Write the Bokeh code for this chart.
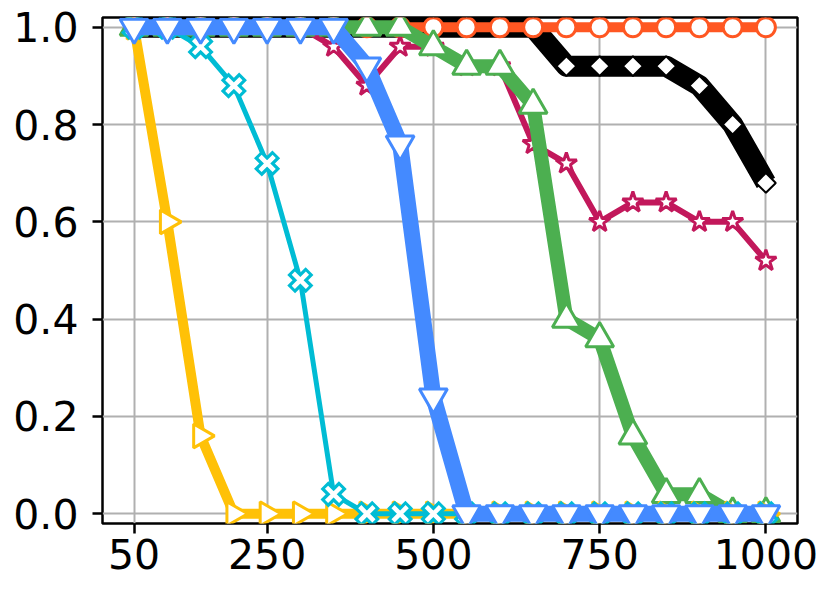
import math
from bokeh.plotting import figure
from bokeh.models import Range1d, FixedTicker, PrintfTickFormatter
from bokeh.embed import file_html
from bokeh.resources import INLINE

x = [50, 100, 150, 200, 250, 300, 350, 400, 450, 500,
     550, 600, 650, 700, 750, 800, 850, 900, 950, 1000]

s_orange = [1.0, 1.0, 1.0, 1.0, 1.0, 1.0, 1.0, 1.0, 1.0, 1.0,
            1.0, 1.0, 1.0, 1.0, 1.0, 1.0, 1.0, 1.0, 1.0, 1.0]
s_black = [1.0, 1.0, 1.0, 1.0, 1.0, 1.0, 1.0, 1.0, 1.0, 1.0,
           1.0, 1.0, 1.0, 0.92, 0.92, 0.92, 0.92, 0.88, 0.80, 0.68]
s_crimson = [1.0, 1.0, 1.0, 1.0, 1.0, 1.0, 0.96, 0.88, 0.96, 0.96,
             0.92, 0.92, 0.76, 0.72, 0.60, 0.64, 0.64, 0.60, 0.60, 0.52]
s_green = [1.0, 1.0, 1.0, 1.0, 1.0, 1.0, 1.0, 1.0, 1.0, 0.96,
           0.92, 0.92, 0.84, 0.40, 0.36, 0.16, 0.04, 0.04, 0.0, 0.0]
s_yellow = [1.0, 0.60, 0.16, 0.0, 0.0, 0.0, 0.0, 0.0, 0.0, 0.0,
            0.0, 0.0, 0.0, 0.0, 0.0, 0.0, 0.0, 0.0, 0.0, 0.0]
s_cyan = [1.0, 1.0, 0.96, 0.88, 0.72, 0.48, 0.04, 0.0, 0.0, 0.0,
          0.0, 0.0, 0.0, 0.0, 0.0, 0.0, 0.0, 0.0, 0.0, 0.0]
s_blue = [1.0, 1.0, 1.0, 1.0, 1.0, 1.0, 1.0, 0.92, 0.76, 0.24,
          0.0, 0.0, 0.0, 0.0, 0.0, 0.0, 0.0, 0.0, 0.0, 0.0]

x_ticks = [50, 250, 500, 750, 1000]
y_ticks = [0.0, 0.2, 0.4, 0.6, 0.8, 1.0]

C_ORANGE = "#FF5722"
C_BLACK = "#000000"
C_CRIMSON = "#C2185B"
C_GREEN = "#4CAF50"
C_YELLOW = "#FFC107"
C_CYAN = "#00BCD4"
C_BLUE = "#448AFF"

p = figure(frame_width=695, frame_height=506,
           x_range=Range1d(2.5, 1047.5), y_range=Range1d(-0.02, 1.02),
           output_backend="svg", toolbar_location=None,
           min_border_left=102, min_border_top=17, min_border_right=27,
           min_border_bottom=60)
p.background_fill_color = "white"
p.border_fill_color = "white"
p.outline_line_color = "black"
p.outline_line_width = 2.5
p.outline_line_alpha = 1.0

for ax in (p.xaxis[0], p.yaxis[0]):
    ax.axis_line_color = None
    ax.major_tick_line_color = "black"
    ax.major_tick_line_width = 2.5
    ax.major_tick_out = 10
    ax.major_tick_in = 0
    ax.minor_tick_line_color = None
    ax.major_label_text_font = "DejaVu Sans"
    ax.major_label_text_font_size = "41px"
    ax.major_label_text_color = "black"

p.xaxis[0].ticker = FixedTicker(ticks=x_ticks)
p.yaxis[0].ticker = FixedTicker(ticks=y_ticks)
p.yaxis[0].formatter = PrintfTickFormatter(format="%.1f")
p.xaxis[0].major_label_standoff = 5
p.yaxis[0].major_label_standoff = 14

p.xgrid.grid_line_color = "#b0b0b0"
p.ygrid.grid_line_color = "#b0b0b0"
p.xgrid.grid_line_width = 2
p.ygrid.grid_line_width = 2

# black diamonds
p.line(x, s_black, line_color=C_BLACK, line_width=21, line_join="round")
p.scatter(x, s_black, marker="square", angle=math.pi / 4, size=14,
          fill_color="white", line_color=C_BLACK, line_width=2)

# orange circles
p.line(x, s_orange, line_color=C_ORANGE, line_width=10, line_join="round")
p.scatter(x, s_orange, marker="circle", size=19,
          fill_color="white", line_color=C_ORANGE, line_width=3)

# crimson stars
p.line(x, s_crimson, line_color=C_CRIMSON, line_width=6, line_join="round")
p.scatter(x, s_crimson, marker="star", size=22,
          fill_color="white", line_color=C_CRIMSON, line_width=3)

# green triangles
p.line(x, s_green, line_color=C_GREEN, line_width=14, line_join="round")
p.scatter(x, s_green, marker="triangle", size=28,
          fill_color="white", line_color=C_GREEN, line_width=3)

# yellow right triangles
p.line(x, s_yellow, line_color=C_YELLOW, line_width=10, line_join="round")
p.scatter(x, s_yellow, marker="triangle", angle=-math.pi / 2, size=24,
          fill_color="white", line_color=C_YELLOW, line_width=3)

# cyan X
p.line(x, s_cyan, line_color=C_CYAN, line_width=5, line_join="round")
p.scatter(x, s_cyan, marker="x", size=26, line_color=C_CYAN, line_width=11)
p.scatter(x, s_cyan, marker="x", size=20, line_color="white", line_width=4.5)

# blue inverted triangles
p.line(x, s_blue, line_color=C_BLUE, line_width=16, line_join="round")
p.scatter(x, s_blue, marker="inverted_triangle", size=28,
          fill_color="white", line_color=C_BLUE, line_width=3)

open("out.html", "w").write(file_html(p, INLINE))
